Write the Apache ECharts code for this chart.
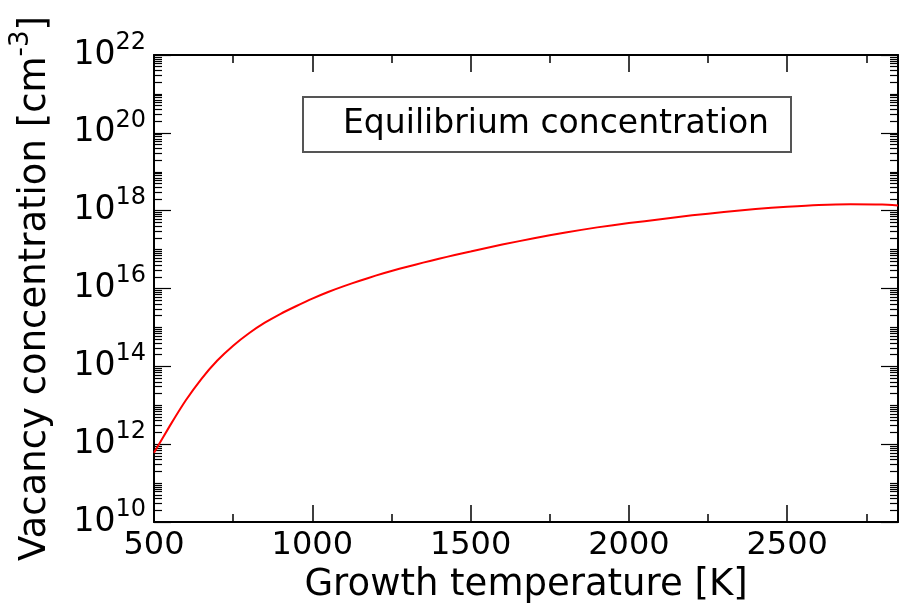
<!DOCTYPE html>
<html>
<head>
<meta charset="utf-8">
<script src="https://cdn.jsdelivr.net/npm/echarts@6/dist/echarts.min.js"></script>
<style>
html,body{margin:0;padding:0;background:#fff;}
#chart{width:912px;height:610px;}
</style>
</head>
<body>
<div id="chart"></div>
<script>
// Growth temperature [K]
const temperature = [500, 550, 600, 650, 700, 750, 800, 850, 900, 950, 1000, 1050, 1100, 1150, 1200, 1250,
  1300, 1350, 1400, 1450, 1500, 1600, 1700, 1800, 1900, 2000, 2100, 2200, 2300, 2400, 2500, 2600,
  2700, 2800, 2850];
// Equilibrium vacancy concentration [cm^-3]
const concentration = [6.0e11, 2.95e12, 1.32e13, 4.79e13, 1.41e14, 3.39e14, 7.08e14, 1.32e15, 2.24e15, 3.55e15,
  5.50e15, 8.13e15, 1.15e16, 1.58e16, 2.14e16, 2.82e16, 3.63e16, 4.62e16, 5.82e16, 7.24e16, 8.91e16,
  1.35e17, 1.95e17, 2.75e17, 3.72e17, 4.79e17, 6.03e17, 7.59e17, 9.23e17, 1.10e18, 1.26e18, 1.40e18,
  1.46e18, 1.43e18, 1.35e18];
const seriesName = 'Equilibrium concentration';
const xTicks = [500, 1000, 1500, 2000, 2500];
const xMinorTicks = [750, 1250, 1750, 2250, 2750];
const yTickExponents = [10, 12, 14, 16, 18, 20, 22];
const xRange = [500, 2850];
const yRange = [1e10, 1e22];

const yMajor = yTickExponents.map(e => Math.pow(10, e));
const yMinor = [];
for (let n = yTickExponents[0]; n < yTickExponents[yTickExponents.length - 1]; n++) {
  for (let k = 1; k <= 9; k++) {
    const v = k * Math.pow(10, n);
    if (!(k === 1 && n % 2 === 0)) yMinor.push(v);
  }
}

const FONT = 'DejaVu Sans';
const black = '#000';

function xAx(pos, major, show) {
  return {
    type: 'value', min: xRange[0], max: xRange[1], position: pos,
    axisLine: {show: show, onZero: false, lineStyle: {color: black, width: 2}},
    axisTick: {show: true, inside: true, length: major ? 17 : 8,
      customValues: major ? xTicks : xMinorTicks, lineStyle: {color: black, width: 1.5}},
    axisLabel: {show: false},
    splitLine: {show: false}
  };
}
function yAx(pos, major, show) {
  return {
    type: 'log', logBase: 10, min: yRange[0], max: yRange[1], position: pos,
    axisLine: {show: show, onZero: false, lineStyle: {color: black, width: 2}},
    axisTick: {show: true, inside: true, length: major ? 17 : 8,
      customValues: major ? yMajor : yMinor, lineStyle: {color: black, width: 1.2}},
    axisLabel: {show: false},
    splitLine: {show: false}
  };
}

const xMain = xAx('bottom', true, true);
xMain.axisLabel = {show: true, customValues: xTicks, fontFamily: FONT, fontSize: 32, color: black, margin: 8,
  formatter: v => String(v)};
xMain.name = 'Growth temperature [K]';
xMain.nameLocation = 'middle';
xMain.nameGap = 37;
xMain.nameTextStyle = {fontFamily: FONT, fontSize: 37, color: black};

const yMain = yAx('left', true, true);
yMain.axisLabel = {
  show: true, customValues: yMajor, margin: 8, color: black,
  formatter: v => '{b|10}{s|' + Math.round(Math.log10(v)) + '}',
  rich: {
    b: {fontFamily: FONT, fontSize: 33, color: black, lineHeight: 33, verticalAlign: 'bottom'},
    s: {fontFamily: FONT, fontSize: 24, color: black, lineHeight: 24, padding: [0, 0, 17, 0], verticalAlign: 'bottom'}
  }
};
yMain.name = 'Vacancy concentration [cm{s|-3}]';
yMain.nameLocation = 'middle';
yMain.nameGap = 100;
yMain.nameTextStyle = {
  fontFamily: FONT, fontSize: 37, color: black,
  rich: {s: {fontFamily: FONT, fontSize: 26, color: black, lineHeight: 26, padding: [0, 0, 20, 0], verticalAlign: 'bottom'}}
};

const chart = echarts.init(document.getElementById('chart'), null, {renderer: 'canvas'});
chart.setOption({
  animation: false,
  backgroundColor: '#fff',
  grid: {left: 153, right: 14, top: 55, bottom: 88, containLabel: false},
  legend: {
    data: [seriesName], left: 303, top: 97,
    icon: 'rect', itemWidth: 25, itemHeight: 10,
    itemStyle: {opacity: 0},
    borderColor: '#555', borderWidth: 2, borderRadius: 0,
    padding: [7, 22, 8, 10],
    textStyle: {fontFamily: FONT, fontSize: 33, color: black, lineHeight: 40},
    selectedMode: false
  },
  xAxis: [xMain, xAx('bottom', false, false), xAx('top', true, true), xAx('top', false, false)],
  yAxis: [yMain, yAx('left', false, false), yAx('right', true, true), yAx('right', false, false)],
  series: [{
    name: seriesName, type: 'line', xAxisIndex: 0, yAxisIndex: 0,
    data: temperature.map((t, i) => [t, concentration[i]]),
    symbol: 'none', smooth: 0.2,
    lineStyle: {color: '#ff0000', width: 2}, itemStyle: {color: '#ff0000'}
  }]
});
</script>
</body>
</html>
